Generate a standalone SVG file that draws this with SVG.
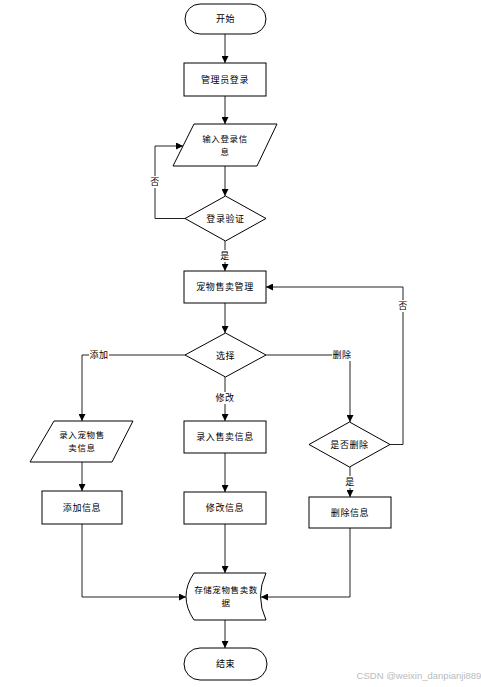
<svg xmlns="http://www.w3.org/2000/svg" width="481" height="687" viewBox="0 0 481 687">
<style>
.s{fill:#fff;stroke:#000;stroke-width:1}
.c{fill:none;stroke:#222;stroke-width:1}
.t{font-family:"Noto Sans CJK SC","Liberation Sans",sans-serif;font-size:9px;fill:#000;text-anchor:middle;letter-spacing:0.6px}
.m{font-size:8.5px}
.lb{fill:#fff;stroke:none}
</style>
<defs>
<marker id="a" viewBox="0 0 10 10" refX="10" refY="5" markerWidth="7" markerHeight="7" orient="auto" markerUnits="userSpaceOnUse">
<path d="M0,0 L10,5 L0,10 z" fill="#000"/>
</marker>
</defs>
<rect width="481" height="687" fill="#fff"/>
<g id="connectors">
<path class="c" d="M225,34 V63" marker-end="url(#a)"/>
<path class="c" d="M225,96 V124" marker-end="url(#a)"/>
<path class="c" d="M225,166 V196" marker-end="url(#a)"/>
<path class="c" d="M185,218.5 H155 V146 H183" marker-end="url(#a)"/>
<path class="c" d="M225,241 V271" marker-end="url(#a)"/>
<path class="c" d="M225,303 V333" marker-end="url(#a)"/>
<path class="c" d="M185,355 H82 V421" marker-end="url(#a)"/>
<path class="c" d="M225,377 V421" marker-end="url(#a)"/>
<path class="c" d="M266,355 H350 V422" marker-end="url(#a)"/>
<path class="c" d="M390,444.5 H403 V287 H266" marker-end="url(#a)"/>
<path class="c" d="M82,462 V491" marker-end="url(#a)"/>
<path class="c" d="M225,453 V492" marker-end="url(#a)"/>
<path class="c" d="M350,467 V497" marker-end="url(#a)"/>
<path class="c" d="M82,524 V597 H186" marker-end="url(#a)"/>
<path class="c" d="M225,524 V573" marker-end="url(#a)"/>
<path class="c" d="M350,528 V597 H261" marker-end="url(#a)"/>
<path class="c" d="M225,620 V648" marker-end="url(#a)"/>
<rect class="lb" x="149" y="176" width="12" height="12"/>
<text class="t" x="155" y="185">否</text>
<rect class="lb" x="219" y="250" width="12" height="12"/>
<text class="t" x="225" y="259">是</text>
<rect class="lb" x="89" y="349" width="20" height="12"/>
<text class="t" x="99" y="358">添加</text>
<rect class="lb" x="215" y="392" width="20" height="12"/>
<text class="t" x="225" y="401">修改</text>
<rect class="lb" x="332" y="349" width="20" height="12"/>
<text class="t" x="342" y="358">删除</text>
<rect class="lb" x="397" y="300" width="12" height="12"/>
<text class="t" x="403" y="309">否</text>
<rect class="lb" x="344" y="476" width="12" height="12"/>
<text class="t" x="350" y="485">是</text>
</g>
<g id="start">
<rect class="s" x="185" y="4" width="81" height="30" rx="15"/>
<text class="t" x="225.5" y="22">开始</text>
</g>
<g id="admin-login">
<rect class="s" x="184" y="63" width="82" height="33"/>
<text class="t" x="225" y="83">管理员登录</text>
</g>
<g id="input-login">
<polygon class="s" points="194,124 277,124 257,166 173,166"/>
<text class="t m" x="225" y="142">输入登录信</text>
<text class="t m" x="225" y="155">息</text>
</g>
<g id="login-verify">
<polygon class="s" points="225.5,196 266,218.5 225.5,241 185,218.5"/>
<text class="t" x="225.5" y="222">登录验证</text>
</g>
<g id="pet-manage">
<rect class="s" x="184" y="271" width="82" height="32"/>
<text class="t" x="225" y="290">宠物售卖管理</text>
</g>
<g id="choose">
<polygon class="s" points="225.5,333 266,355 225.5,377 185,355"/>
<text class="t" x="225.5" y="358.5">选择</text>
</g>
<g id="input-pet">
<polygon class="s" points="54,421 133,421 112,462 30,462"/>
<text class="t m" x="82" y="438">录入宠物售</text>
<text class="t m" x="82" y="451">卖信息</text>
</g>
<g id="input-sale">
<rect class="s" x="184" y="421" width="82" height="32"/>
<text class="t" x="225" y="440">录入售卖信息</text>
</g>
<g id="delete-check">
<polygon class="s" points="349.5,422 390,444.5 349.5,467 309,444.5"/>
<text class="t" x="349.5" y="448">是否删除</text>
</g>
<g id="add-info">
<rect class="s" x="42" y="491" width="80" height="33"/>
<text class="t" x="82" y="511">添加信息</text>
</g>
<g id="modify-info">
<rect class="s" x="184" y="492" width="82" height="32"/>
<text class="t" x="225" y="511">修改信息</text>
</g>
<g id="delete-info">
<rect class="s" x="309" y="497" width="82" height="31"/>
<text class="t" x="350" y="516">删除信息</text>
</g>
<g id="store-data">
<path class="s" d="M194,573 H266 Q255,596.5 266,620 H194 Q178,596.5 194,573 Z"/>
<text class="t m" x="226" y="593">存储宠物售卖数</text>
<text class="t m" x="226" y="606">据</text>
</g>
<g id="end">
<rect class="s" x="184" y="648" width="83" height="32" rx="16"/>
<text class="t" x="225.5" y="667">结束</text>
</g>
<text x="419" y="679" style="font-family:'Liberation Sans',sans-serif;font-size:9.5px;fill:#bbb;text-anchor:middle">CSDN @weixin_danpianji889</text>
</svg>
